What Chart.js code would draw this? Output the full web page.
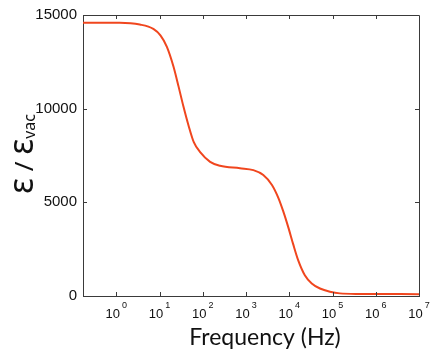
<!DOCTYPE html>
<html>
<head>
<meta charset="utf-8">
<script src="https://cdn.jsdelivr.net/npm/chart.js@4/dist/chart.umd.min.js"></script>
<style>
  html, body { margin: 0; padding: 0; background: #fff; }
  #wrap { width: 436px; height: 357px; position: relative; }
</style>
</head>
<body>
<div id="wrap"><canvas id="chart"></canvas></div>
<script>
// frequency (Hz) and relative permittivity
var freqHz = [0.17, 1.2, 3.5, 7.2, 10.5, 14.8, 21, 27.5, 35.5, 47, 62, 87, 148, 251, 724,
              1480, 2510, 3980, 5620, 7240, 9550, 12300, 16200, 22900, 33100, 51300,
              87100, 148000, 437000, 1e6, 1e7];
var epsRel = [14580, 14580, 14490, 14260, 13910, 13300, 12250, 11190, 10140, 9090, 8210, 7680,
              7160, 6950, 6820, 6720, 6460, 5930, 5230, 4530, 3650, 2770, 1890, 1110, 670, 400,
              230, 140, 110, 105, 100];

var xTickExps = [0, 1, 2, 3, 4, 5, 6, 7];
var yTicks = [0, 5000, 10000, 15000];
var xTitle = "Frequency (Hz)";
var yTitleParts = ["ε", " / ", "ε", "vac"];

var lineColor = "#f0461e";
var axisColor = "#3a3a3a";

var points = freqHz.map(function (f, i) { return { x: f, y: epsRel[i] }; });

var frame = {
  id: "frame",
  afterDraw: function (chart) {
    var ctx = chart.ctx;
    var a = chart.chartArea;
    var xs = chart.scales.x, ys = chart.scales.y;
    ctx.save();
    ctx.strokeStyle = axisColor;
    ctx.lineWidth = 1;
    ctx.beginPath();
    ctx.moveTo(a.left, a.top + 0.5);
    ctx.lineTo(a.right + 0.5, a.top + 0.5);
    ctx.lineTo(a.right + 0.5, a.bottom);
    // inward ticks
    xTickExps.forEach(function (e) {
      var px = Math.round(xs.getPixelForValue(Math.pow(10, e))) + 0.5;
      if (px > a.right - 1) return;
      ctx.moveTo(px, a.bottom);
      ctx.lineTo(px, a.bottom - 4);
      ctx.moveTo(px, a.top);
      ctx.lineTo(px, a.top + 4);
    });
    yTicks.forEach(function (v) {
      var py = Math.round(ys.getPixelForValue(v)) + 0.5;
      if (py < a.top + 1 || py > a.bottom - 1) return;
      ctx.moveTo(a.left, py);
      ctx.lineTo(a.left + 4, py);
      ctx.moveTo(a.right, py);
      ctx.lineTo(a.right - 4, py);
    });
    ctx.stroke();

    // x tick labels: 10 with exponent
    ctx.fillStyle = "#111";
    ctx.textBaseline = "alphabetic";
    xTickExps.forEach(function (e) {
      var px = xs.getPixelForValue(Math.pow(10, e));
      ctx.font = "13px 'Liberation Sans', Arial, sans-serif";
      var wBase = ctx.measureText("10").width;
      ctx.font = "9px 'Liberation Sans', Arial, sans-serif";
      var wExp = ctx.measureText(String(e)).width;
      var x0 = px - (wBase + 2 + wExp) / 2;
      ctx.textAlign = "left";
      ctx.font = "13px 'Liberation Sans', Arial, sans-serif";
      ctx.fillText("10", x0, 318);
      ctx.font = "9px 'Liberation Sans', Arial, sans-serif";
      ctx.fillText(String(e), x0 + wBase + 2, 308);
    });

    // x title
    ctx.font = "23px Lato, 'Open Sans', sans-serif";
    ctx.textAlign = "center";
    ctx.fillText(xTitle, 265, 345);

    // y title, rotated, with subscript
    var fonts = ["34px 'Noto Sans', sans-serif", "26px 'Noto Sans', sans-serif",
                 "34px 'Noto Sans', sans-serif", "16px 'Noto Sans', sans-serif"];
    var shifts = [0, 0, 0, 2];
    var widths = yTitleParts.map(function (t, i) {
      ctx.font = fonts[i];
      return ctx.measureText(t).width;
    });
    var total = widths.reduce(function (s, w) { return s + w; }, 0);
    ctx.translate(33, 154);
    ctx.rotate(-Math.PI / 2);
    ctx.textAlign = "left";
    var u = -total / 2;
    yTitleParts.forEach(function (t, i) {
      ctx.font = fonts[i];
      ctx.fillText(t, u, shifts[i]);
      u += widths[i];
    });
    ctx.restore();
  }
};

new Chart(document.getElementById("chart"), {
  type: "line",
  data: {
    datasets: [{
      data: points,
      borderColor: lineColor,
      borderWidth: 2,
      pointRadius: 0,
      fill: false,
      cubicInterpolationMode: "monotone"
    }]
  },
  options: {
    animation: false,
    responsive: true,
    maintainAspectRatio: false,
    layout: { padding: { left: 0, top: 11, right: 17, bottom: 0 } },
    plugins: { legend: { display: false }, tooltip: { enabled: false } },
    scales: {
      x: {
        type: "logarithmic",
        min: 0.17,
        max: 1e7,
        grid: { display: false, drawTicks: false },
        border: { display: true, color: axisColor, width: 1 },
        ticks: { display: false },
        afterFit: function (scale) { scale.height = 61; }
      },
      y: {
        min: 0,
        max: 15000,
        grid: { display: false, drawTicks: false },
        border: { display: true, color: axisColor, width: 1 },
        ticks: {
          stepSize: 5000,
          padding: 6,
          color: "#111",
          font: { family: "'Liberation Sans', Arial, sans-serif", size: 15 },
          callback: function (v) { return String(v); }
        },
        afterFit: function (scale) { scale.width = 83; }
      }
    }
  },
  plugins: [frame]
});
</script>
</body>
</html>
